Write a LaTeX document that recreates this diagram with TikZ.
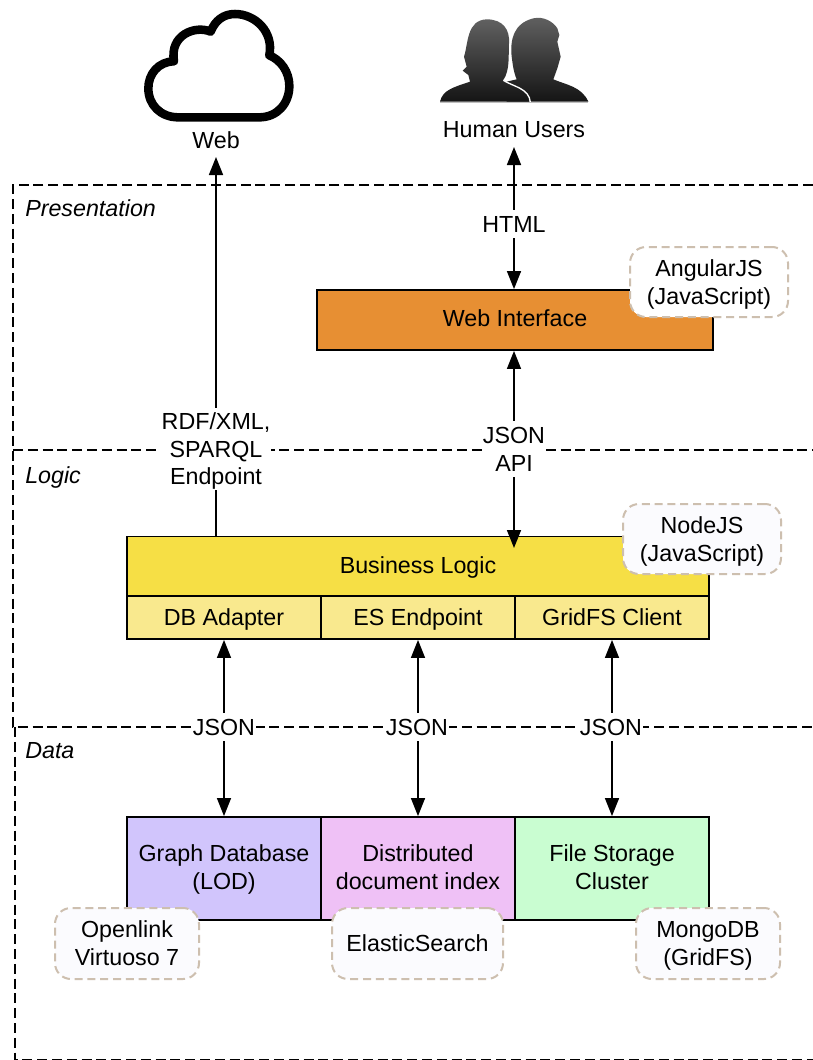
\documentclass[tikz,border=0pt]{standalone}
\usepackage{fontspec}
\setmainfont{Liberation Sans}
\usetikzlibrary{arrows.meta}
\definecolor{orangebox}{HTML}{E78F33}
\definecolor{bizyellow}{HTML}{F6DF45}
\definecolor{subyellow}{HTML}{F9E98E}
\definecolor{graphfill}{HTML}{D1C5FC}
\definecolor{docfill}{HTML}{EFC1F6}
\definecolor{filefill}{HTML}{C9FDD1}
\definecolor{calloutline}{HTML}{CDBFAF}
\definecolor{calloutfill}{HTML}{FBFBFE}
\newcommand{\st}{\rule[-5.2pt]{0pt}{20.2pt}}
\newcommand{\lo}{\rule[-4pt]{0pt}{20pt}}
\tikzset{
  px/.style={x=0.75pt,y=-0.75pt},
  txt/.style={font=\fontsize{17.45pt}{21pt}\selectfont,align=center,text=black},
  boxnode/.style={txt,draw=black,line width=1.4pt,minimum height=#1*0.75pt,inner sep=0pt,anchor=center},
  layerline/.style={line width=1.1pt,dash pattern=on 7.5pt off 3.6pt},
  callout/.style={txt,draw=calloutline,fill=calloutfill,line width=1.5pt,dash pattern=on 6pt off 3.6pt,rounded corners=12pt,inner sep=0pt,anchor=center},
  tagnode/.style={txt,fill=white,inner sep=0.8pt,anchor=center},
  layername/.style={txt,font=\fontsize{17.45pt}{21pt}\itshape,anchor=west,inner sep=0pt},
  arrowline/.style={line width=1.2pt,{Triangle[length=13.5pt,width=10.5pt]}-{Triangle[length=13.5pt,width=10.5pt]}},
  uparrow/.style={line width=1.2pt,-{Triangle[length=13.5pt,width=10.5pt]}}
}
\begin{document}
\begin{tikzpicture}[px]
\useasboundingbox[fill=white] (0,0) rectangle (813,1060);

% layers
\draw[layerline] (813,185) -- (13,185) -- (13,727) -- (813,727);
\draw[layerline] (13,450) -- (813,450);
\draw[layerline] (15,727) -- (15,1060) -- (813,1060);
\node[layername] (presentation) at (25,208) {\lo Presentation};
\node[layername] (logic) at (25,475) {\lo Logic};
\node[layername] (data) at (25,750) {\lo Data};

% cloud
\begin{scope}[shift={(120,0)},x=0.25pt,y=-0.25pt]
\draw[line width=6.4pt,line join=round,fill=white]
  (175,352) -- (418,352)
  .. controls (472,352) and (508,310) .. (508,258)
  .. controls (508,215) and (482,180) .. (448,166)
  .. controls (462,95) and (405,42) .. (345,42)
  .. controls (310,42) and (285,62) .. (272,95)
  .. controls (225,75) and (148,105) .. (162,184)
  .. controls (115,185) and (85,222) .. (85,265)
  .. controls (85,315) and (122,352) .. (175,352) -- cycle;
% right person
\shade[top color=black!62,bottom color=black!92]
  (1160,305) -- (1160,245) -- (1190,238) .. controls (1180,215) and (1178,190) .. (1175,170)
  .. controls (1170,120) and (1180,70) .. (1240,55)
  .. controls (1270,48) and (1300,65) .. (1312,85) -- (1318,105) -- (1312,125) -- (1322,170) -- (1312,205) -- (1300,238)
  .. controls (1340,255) and (1385,260) .. (1405,305) -- cycle;
% left person
\shade[top color=black!62,bottom color=black!92]
  (960,305) .. controls (968,270) and (1000,262) .. (1050,245)
  -- (1045,225) -- (1028,212) -- (1040,200) -- (1032,170)
  .. controls (1045,130) and (1040,60) .. (1100,58)
  .. controls (1150,58) and (1170,90) .. (1167,130)
  .. controls (1165,170) and (1170,210) .. (1150,240)
  .. controls (1180,260) and (1225,265) .. (1228,305) -- cycle;
\draw[white,line width=1pt] (1150,241) .. controls (1180,260) and (1228,265) .. (1231,307);
\draw[black!25,line width=0.5pt] (960,306) -- (1405,306);
\end{scope}

\node[txt,inner sep=0pt] (web) at (216,141.5) {\st Web};
\node[txt,inner sep=0pt] (users) at (514,131) {\st Human Users};

% boxes
\node[boxnode=60,fill=orangebox,minimum width=396*0.75pt] (webif) at (515,320) {\st Web Interface};
\node[boxnode=60,fill=bizyellow,minimum width=582*0.75pt] (biz) at (418,566.5) {\st Business Logic};
\node[boxnode=43,fill=subyellow,minimum width=194*0.75pt] (adapter) at (224,617.5) {\lo DB Adapter};
\node[boxnode=43,fill=subyellow,minimum width=194*0.75pt] (esend) at (418,617.5) {\lo ES Endpoint};
\node[boxnode=43,fill=subyellow,minimum width=194*0.75pt] (gridfs) at (612,617.5) {\lo GridFS Client};
\node[boxnode=103,fill=graphfill,minimum width=194*0.75pt] (graphdb) at (224,868.5) {\st Graph Database\\\st (LOD)};
\node[boxnode=103,fill=docfill,minimum width=194*0.75pt] (docindex) at (418,868.5) {\st Distributed\\\st document index};
\node[boxnode=103,fill=filefill,minimum width=194*0.75pt] (filestore) at (612,868.5) {\st File Storage\\\st Cluster};

% connectors
\coordinate (bizin) at (514,548);
\coordinate (bizweb) at (216,537);
\coordinate (webtip) at (216,157);
\coordinate (usertip) at (514,147);
\draw[uparrow] (bizweb) -- (webtip);
\draw[arrowline] (usertip) -- (webif.north -| usertip);
\draw[arrowline] (webif.south -| usertip) -- (bizin);
\draw[arrowline] (adapter.south) -- (graphdb.north);
\draw[arrowline] (esend.south) -- (docindex.north);
\draw[arrowline] (gridfs.south) -- (filestore.north);

% connector labels
\node[tagnode] (html) at (514,224) {\lo HTML};
\node[tagnode,font=\fontsize{17.45pt}{20.3pt}\selectfont] (rdf) at (216,449) {\lo RDF/XML,\\\lo SPARQL\\\lo Endpoint};
\node[tagnode] (api) at (514,449) {\lo JSON\\\lo API};
\node[tagnode] (json1) at (224,727) {\lo JSON};
\node[tagnode] (json2) at (417,727) {\lo JSON};
\node[tagnode] (json3) at (611,727) {\lo JSON};

% callouts
\node[callout,fill=white,minimum width=158*0.75pt,minimum height=70*0.75pt] (angular) at (709,282) {\lo AngularJS\\\lo (JavaScript)};
\node[callout,minimum width=158*0.75pt,minimum height=70*0.75pt] (nodejs) at (702,539) {\lo NodeJS\\\lo (JavaScript)};
\node[callout,minimum width=144*0.75pt,minimum height=71*0.75pt] (virtuoso) at (127,943.5) {\lo Openlink\\\lo Virtuoso 7};
\node[callout,minimum width=171*0.75pt,minimum height=71*0.75pt] (elastic) at (417.5,943.5) {\lo ElasticSearch};
\node[callout,minimum width=144*0.75pt,minimum height=71*0.75pt] (mongo) at (708,943.5) {\lo MongoDB\\\lo (GridFS)};
\end{tikzpicture}
\end{document}
